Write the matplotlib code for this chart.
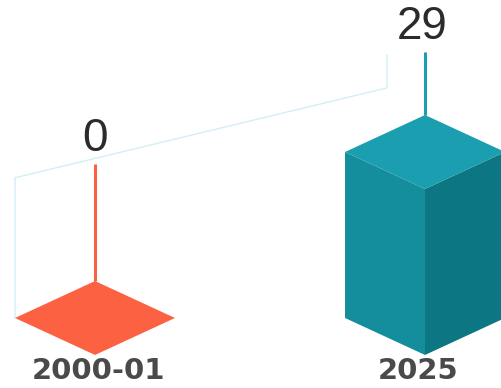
import numpy as np
import matplotlib
matplotlib.use('Agg')
import matplotlib.pyplot as plt
from matplotlib.patches import Polygon

categories = ['2000-01', '2025']
values = [0, 29]
top_colors = ['#fc6242', '#1b9fb0']
left_colors = ['#f0553a', '#148e9c']
right_colors = ['#e04d33', '#0d7683']

# leader line length above each bar top (value units)
leader_len = [20.4, 11.0]

half_w = 0.2424   # half width of a block in category units
depth = 6.46      # half depth of the rhombus in value units


def draw_block(ax, c, v, i):
    top = [(c, v + depth), (c - half_w, v), (c, v - depth), (c + half_w, v)]
    if v > 0:
        left = [(c - half_w, v), (c, v - depth), (c, -depth), (c - half_w, 0)]
        right = [(c, v - depth), (c + half_w, v), (c + half_w, 0), (c, -depth)]
        ax.add_patch(Polygon(left, closed=True, fc=left_colors[i], ec='none'))
        ax.add_patch(Polygon(right, closed=True, fc=right_colors[i], ec='none'))
    ax.add_patch(Polygon(top, closed=True, fc=top_colors[i], ec='none'))


fig = plt.figure(figsize=(5.02, 3.88), dpi=100)
ax = fig.add_axes([0, 0, 1, 1])
ax.set_xlim(-0.2879, 1.2333)
ax.set_ylim(-12.23, 55.55)
ax.axis('off')

# faint bracket joining the two leaders
bx = [-half_w, -half_w, 0.885, 0.885]
by = [0, 24.5, 40.2, 45.9]
ax.plot(bx, by, color='#c6ecf3', lw=1.0, alpha=0.8, zorder=0)

for i, (cat, v) in enumerate(zip(categories, values)):
    c = i
    draw_block(ax, c, v, i)
    y0 = v + depth
    y1 = y0 + leader_len[i]
    ax.plot([c, c], [y0, y1], color=top_colors[i], lw=2.2, zorder=3,
            solid_capstyle='butt')
    ax.text(c - 0.01 * i, y1 + 2.3, str(v), ha='center', va='baseline',
            fontsize=33, color='#2b2b2b', family='Liberation Sans')
    ax.text(c + 0.01 - 0.03 * i, -9.2, cat, ha='center', va='center', fontsize=21,
            fontweight='bold', color='#4a4a4a', family='DejaVu Sans')

fig.savefig('out.png', dpi=100)
